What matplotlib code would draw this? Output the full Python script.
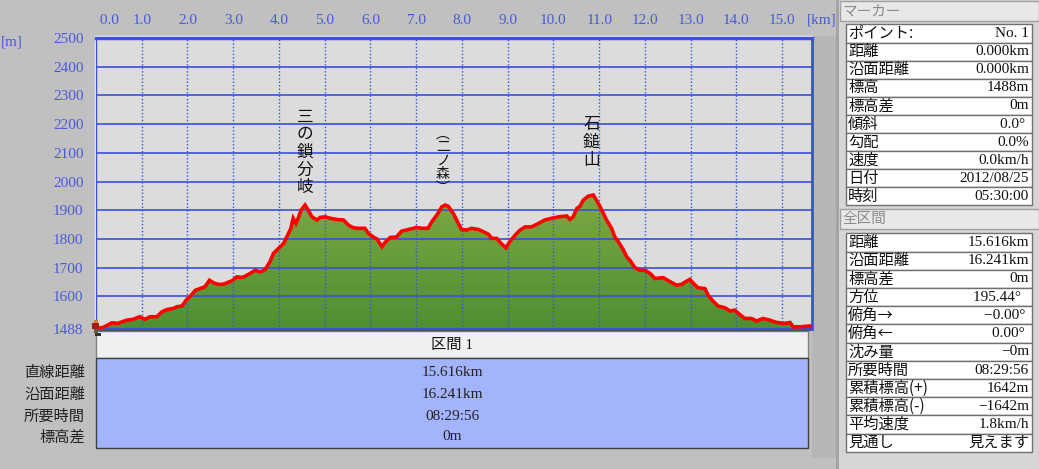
import matplotlib
matplotlib.use('Agg')
import matplotlib.pyplot as plt
import matplotlib.patches as mpatches
import numpy as np
from matplotlib.colors import LinearSegmentedColormap

# ---- profile data (distance [km], elevation [m]) ----
profile_km = [
    0.00, 0.16, 0.35, 0.48, 0.67, 0.81, 0.95, 1.07, 1.18, 1.33,
    1.44, 1.55, 1.69, 1.77, 1.88, 1.98, 2.06, 2.17, 2.27, 2.38,
    2.48, 2.57, 2.67, 2.78, 2.86, 2.97, 3.08, 3.19, 3.26, 3.37,
    3.48, 3.59, 3.70, 3.80, 3.88, 3.99, 4.10, 4.17, 4.26, 4.31,
    4.37, 4.42, 4.48, 4.57, 4.64, 4.72, 4.83, 4.90, 5.01, 5.12,
    5.26, 5.41, 5.52, 5.62, 5.73, 5.88, 5.95, 6.06, 6.14, 6.25,
    6.32, 6.43, 6.57, 6.68, 6.83, 7.01, 7.12, 7.26, 7.34, 7.45,
    7.56, 7.63, 7.70, 7.81, 7.92, 7.99, 8.10, 8.21, 8.36, 8.47,
    8.58, 8.65, 8.76, 8.87, 8.96, 9.05, 9.16, 9.27, 9.38, 9.52,
    9.67, 9.81, 9.96, 10.11, 10.29, 10.36, 10.43, 10.51, 10.58, 10.65,
    10.76, 10.87, 10.94, 11.02, 11.09, 11.16, 11.27, 11.34, 11.42, 11.53,
    11.60, 11.67, 11.78, 11.89, 12.00, 12.11, 12.22, 12.40, 12.55, 12.69,
    12.80, 12.91, 12.98, 13.06, 13.16, 13.31, 13.38, 13.49, 13.60, 13.75,
    13.86, 13.96, 14.07, 14.18, 14.33, 14.44, 14.58, 14.73, 14.88, 15.06,
    15.17, 15.24, 15.42, 15.60, 15.64,
]
profile_elev = [
    1488, 1492, 1508, 1506, 1517, 1520, 1529, 1520, 1529, 1529,
    1546, 1554, 1558, 1564, 1566, 1589, 1600, 1621, 1627, 1633,
    1656, 1647, 1642, 1642, 1647, 1654, 1668, 1666, 1670, 1680,
    1691, 1685, 1694, 1720, 1750, 1767, 1784, 1807, 1837, 1872,
    1854, 1872, 1900, 1918, 1900, 1877, 1866, 1875, 1877, 1872,
    1868, 1866, 1848, 1839, 1837, 1837, 1820, 1807, 1800, 1773,
    1788, 1805, 1807, 1827, 1833, 1840, 1837, 1837, 1860, 1883,
    1912, 1918, 1914, 1889, 1854, 1833, 1831, 1837, 1833, 1825,
    1816, 1802, 1802, 1782, 1769, 1792, 1813, 1831, 1842, 1842,
    1854, 1866, 1872, 1877, 1880, 1868, 1877, 1906, 1914, 1935,
    1949, 1953, 1935, 1912, 1889, 1866, 1837, 1807, 1790, 1761,
    1738, 1726, 1700, 1691, 1691, 1680, 1662, 1665, 1651, 1639,
    1642, 1653, 1659, 1645, 1630, 1627, 1604, 1583, 1566, 1560,
    1549, 1552, 1537, 1523, 1523, 1514, 1523, 1517, 1509, 1506,
    1509, 1494, 1494, 1497, 1494,
]

x_ticks = list(range(16))
y_ticks = [1488, 1600, 1700, 1800, 1900, 2000, 2100, 2200, 2300, 2400, 2500]

peak_names = ['三の鎖分岐', '︵二ノ森︶', '石鎚山']
peak_km = [4.57, 7.58, 10.83]

section_title = '区間 1'
section_keys = ['直線距離', '沿面距離', '所要時間', '標高差']
section_vals = ['15.616km', '16.241km', '08:29:56', '0m']

marker_keys = ['ポイント:', '距離', '沿面距離', '標高', '標高差', '傾斜', '勾配',
               '速度', '日付', '時刻']
marker_vals = ['No. 1', '0.000km', '0.000km', '1488m', '0m', '0.0° ', '0.0%',
               '0.0km/h', '2012/08/25', '05:30:00']

total_keys = ['距離', '沿面距離', '標高差', '方位', '俯角→', '俯角←', '沈み量',
              '所要時間', '累積標高(+)', '累積標高(-)', '平均速度', '見通し']
total_vals = ['15.616km', '16.241km', '0m', '195.44°  ', '−0.00° ', '0.00° ',
              '−0m', '08:29:56', '1642m', '−1642m', '1.8km/h', '見えます']

# ---- figure ----
plt.rcParams['font.family'] = ['Liberation Serif', 'Noto Sans CJK JP']
W, H = 1039, 469
BLUE = '#3a50d8'
TXT_BLUE = '#4a5ad6'
JP = ['Noto Sans CJK JP']


def px_rect(x0, y0, x1, y1):
    return [x0 / W, 1 - y1 / H, (x1 - x0) / W, (y1 - y0) / H]


fig = plt.figure(figsize=(W / 100, H / 100), dpi=100, facecolor='#c0c0c0')

# background / UI layer in pixel coordinates
bg = fig.add_axes([0, 0, 1, 1], zorder=0)
bg.set_xlim(0, W)
bg.set_ylim(H, 0)
bg.axis('off')

# main profile axes
x_max = 15.64
ax = fig.add_axes(px_rect(96, 38, 811.5, 328.5), zorder=1)
ax.set_facecolor('#dcdcdc')

# gradient fill under the profile
verts = [(profile_km[0], 1488)] + list(zip(profile_km, profile_elev)) + [(profile_km[-1], 1488)]
clip = mpatches.Polygon(verts, closed=True, fc='none', ec='none')
ax.add_patch(clip)
cmap = LinearSegmentedColormap.from_list('green', ['#4e9032', '#7ea843'])
grad = np.linspace(0, 1, 256).reshape(-1, 1)
im = ax.imshow(grad, extent=[0, x_max, 1488, 1960], origin='lower', aspect='auto',
               cmap=cmap, zorder=2)
im.set_clip_path(clip)

# grid
for y in y_ticks[1:-1]:
    ax.axhline(y, color=BLUE, lw=1.2, zorder=3)
for x in x_ticks[1:]:
    ax.axvline(x, color=BLUE, lw=1, ls=(0, (1, 1.5)), zorder=3)

ax.plot(profile_km, profile_elev, color='#ff0000', lw=2.6, zorder=4,
        solid_joinstyle='miter')

ax.set_xlim(0, x_max)
ax.set_ylim(1488, 2500)

ax.xaxis.tick_top()
ax.set_xticks(x_ticks)
ax.set_xticklabels([' 0.0'] + [f'{v:.1f}' for v in x_ticks[1:]])
ax.set_yticks(y_ticks)
ax.set_yticklabels([str(v) for v in y_ticks])
ax.tick_params(axis='x', length=0, pad=8, labelsize=11, labelcolor=TXT_BLUE)
ax.tick_params(axis='y', length=0, pad=9, labelsize=11, labelcolor=TXT_BLUE)
ax.get_xticklabels()[0].set_horizontalalignment('left')

for side in ['left', 'right', 'bottom', 'top']:
    ax.spines[side].set_color(BLUE)
ax.spines['top'].set_linewidth(2.5)
ax.spines['right'].set_linewidth(2)
ax.spines['bottom'].set_linewidth(1.5)
ax.spines['left'].set_linewidth(1)

# vertical peak labels
label_top = [2225, 2165, 2197]
label_step = [12.7, 9.6, 12.7]
label_size = [12, 10, 12]
for name, km, top, step, fs in zip(peak_names, peak_km, label_top, label_step, label_size):
    for i, ch in enumerate(name):
        ax.annotate(ch, xy=(km, top), xytext=(0, -i * step), textcoords='offset points',
                    ha='center', va='center', fontsize=fs, color='#111111',
                    family=JP, zorder=5, annotation_clip=False)

# axis unit labels
bg.text(822, 20, '[km]', ha='center', va='center', fontsize=11, color=TXT_BLUE)
bg.text(12, 42, '[m]', ha='center', va='center', fontsize=11, color=TXT_BLUE)

# frame highlights
bg.plot([95, 812], [36, 36], color='white', lw=1)
bg.plot([95, 95], [36, 329], color='white', lw=1)
bg.add_patch(mpatches.Rectangle((812, 36), 24, 422, fc='#b6b6b6', ec='none'))

# section box below the chart
bg.plot([96, 810], [330.5, 330.5], color='#505050', lw=1)
bg.add_patch(mpatches.Rectangle((96, 331.5), 712, 27, fc='#f0f0f0', ec='#808080', lw=1))
bg.text(452, 345, section_title, ha='center', va='center', fontsize=11, color='#111111')
bg.add_patch(mpatches.Rectangle((96, 358.5), 712, 89.5, fc='#a3b4fd', ec='#404040', lw=1))
row_y = [372, 394, 416, 437]
for y, k, v in zip(row_y, section_keys, section_vals):
    bg.text(85, y, k, ha='right', va='center', fontsize=11, color='#222222', family=JP)
    bg.text(452, y, v, ha='center', va='center', fontsize=11, color='#222222')

# right info panel
bg.add_patch(mpatches.Rectangle((836, 0), 203, H, fc='#d6d6d6', ec='none'))
bg.add_patch(mpatches.Rectangle((836, 0), 3, H, fc='#a4a4a4', ec='none'))


def panel_header(y0, text):
    bg.add_patch(mpatches.Rectangle((839.5, y0), 199, 20, fc='#e8e8e8', ec='#a0a0a0', lw=1))
    bg.text(842, y0 + 10, text, ha='left', va='center', fontsize=10.5, color='#8a8a8a',
            family=JP)


def panel_table(y0, keys, vals, row_h):
    for i, (k, v) in enumerate(zip(keys, vals)):
        y = y0 + i * row_h
        bg.add_patch(mpatches.Rectangle((845.5, y), 186, row_h, fc='white', ec='#707070', lw=1))
        bg.text(848, y + row_h / 2, k, ha='left', va='center', fontsize=11, color='#111111',
                family=JP)
        bg.text(1029, y + row_h / 2, v, ha='right', va='center', fontsize=11, color='#111111')


panel_header(1, 'マーカー')
panel_table(24.5, marker_keys, marker_vals, 18.1)
panel_header(209, '全区間')
panel_table(233.5, total_keys, total_vals, 18.2)

# hiker marker at the start point
fg = fig.add_axes([0, 0, 1, 1], zorder=5)
fg.set_xlim(0, W)
fg.set_ylim(H, 0)
fg.axis('off')
fg.add_patch(mpatches.Rectangle((94, 320), 4, 3, fc='#e07a20', ec='none'))
fg.add_patch(mpatches.Rectangle((92, 323), 6.5, 6, fc='#a01a1a', ec='none'))
fg.add_patch(mpatches.Rectangle((94, 329), 4, 4, fc='#6a5a3a', ec='none'))
fg.add_patch(mpatches.Rectangle((95, 333), 6, 3, fc='#403020', ec='none'))

fig.savefig('out.png', dpi=100, facecolor=fig.get_facecolor())
